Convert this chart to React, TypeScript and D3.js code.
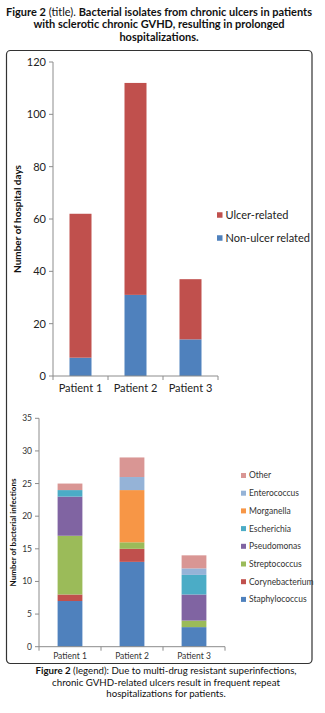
import React from "react";
import * as d3 from "d3";

const patients = ["Patient 1", "Patient 2", "Patient 3"];

// Top chart: hospital days
const daySeries = ["Non-ulcer related", "Ulcer-related"];
const nonUlcerDays = [7, 31, 14];
const ulcerDays = [55, 81, 23];
const dayTicks = [0, 20, 40, 60, 80, 100, 120];
const dayColors = ["#4F81BD", "#C0504D"];

// Bottom chart: bacterial infections
const bacteria = [
  "Staphylococcus",
  "Corynebacterium",
  "Streptococcus",
  "Pseudomonas",
  "Escherichia",
  "Morganella",
  "Enterococcus",
  "Other",
];
const staphylococcus = [7, 13, 3];
const corynebacterium = [1, 2, 0];
const streptococcus = [9, 1, 1];
const pseudomonas = [6, 0, 4];
const escherichia = [1, 0, 3];
const morganella = [0, 8, 0];
const enterococcus = [0, 2, 1];
const other = [1, 3, 2];
const infectionTicks = [0, 5, 10, 15, 20, 25, 30, 35];
const bacteriaColors = [
  "#4F81BD",
  "#C0504D",
  "#9BBB59",
  "#8064A2",
  "#4BACC6",
  "#F79646",
  "#95B3D7",
  "#D99694",
];

const FONT = "Lato, 'Open Sans', 'DejaVu Sans', sans-serif";

function StackedChart(props: {
  x0: number;
  x1: number;
  y0: number;
  y1: number;
  max: number;
  ticks: number[];
  keys: string[];
  values: number[][];
  colors: string[];
  tickFont: number;
  tickColor: string;
  yLabel: string;
  yLabelX: number;
  yLabelFont: number;
  legendX: number;
  legendY: number;
  legendStep: number;
  legendFont: number;
  legendSq: number;
}) {
  const p = props;
  const x = d3.scaleBand<string>().domain(patients).range([p.x0, p.x1]).padding(0);
  const y = d3.scaleLinear().domain([0, p.max]).range([p.y0, p.y1]);
  const rows = patients.map((name, i) => {
    const r: any = { name };
    p.keys.forEach((k, j) => (r[k] = p.values[j][i]));
    return r;
  });
  const stack = d3.stack<any>().keys(p.keys)(rows);
  const bw = x.bandwidth() * 0.4;
  const axisColor = "#8c8c8c";
  const legendOrder = p.keys.map((k, i) => i).reverse();
  const yMid = (p.y0 + p.y1) / 2;
  return (
    <g>
      {stack.map((layer, j) => (
        <g key={p.keys[j]} fill={p.colors[j]}>
          {layer.map((d, i) => {
            const h = y(d[0]) - y(d[1]);
            if (h <= 0) return null;
            return (
              <rect
                key={i}
                x={(x(patients[i]) as number) + x.bandwidth() / 2 - bw / 2}
                y={y(d[1])}
                width={bw}
                height={h}
              />
            );
          })}
        </g>
      ))}
      <line x1={p.x0} x2={p.x0} y1={p.y1} y2={p.y0} stroke={axisColor} />
      <line x1={p.x0} x2={p.x1} y1={p.y0} y2={p.y0} stroke={axisColor} />
      {p.ticks.map((t) => (
        <g key={t}>
          <line x1={p.x0 - 4} x2={p.x0} y1={y(t)} y2={y(t)} stroke={axisColor} />
          <text
            x={p.x0 - 7}
            y={y(t)}
            dy="0.35em"
            textAnchor="end"
            fontSize={p.tickFont}
            fill={p.tickColor}
          >
            {t}
          </text>
        </g>
      ))}
      {[...patients.map((d) => x(d) as number), p.x1].map((v, i) => (
        <line key={i} x1={v} x2={v} y1={p.y0} y2={p.y0 + 4} stroke={axisColor} />
      ))}
      {patients.map((d) => (
        <text
          key={d}
          x={(x(d) as number) + x.bandwidth() / 2}
          y={p.y0 + p.tickFont * 1.45}
          textAnchor="middle"
          fontSize={p.tickFont}
          fill={p.tickColor}
        >
          {d}
        </text>
      ))}
      <text
        transform={`translate(${p.yLabelX},${yMid}) rotate(-90)`}
        textAnchor="middle"
        dy="0.35em"
        fontSize={p.yLabelFont}
        fontWeight="bold"
        fill="#111"
      >
        {p.yLabel}
      </text>
      {legendOrder.map((j, k) => (
        <g key={p.keys[j]} transform={`translate(${p.legendX},${p.legendY + k * p.legendStep})`}>
          <rect x={0} y={-p.legendSq / 2} width={p.legendSq} height={p.legendSq} fill={p.colors[j]} />
          <text x={p.legendSq + 3} dy="0.35em" fontSize={p.legendFont} fill={p.tickColor}>
            {p.keys[j]}
          </text>
        </g>
      ))}
    </g>
  );
}

export default function App() {
  return (
    <svg
      width={325}
      height={713}
      style={{ position: "absolute", left: 0, top: 0, background: "#fff" }}
      fontFamily={FONT}
    >
      <rect x={0} y={0} width={325} height={713} fill="#fff" />
      <text textAnchor="middle" fontSize={11} fill="#111">
        <tspan x={159} y={15.5}>
          <tspan fontWeight="bold">Figure 2</tspan> (title).{" "}
          <tspan fontWeight="bold">Bacterial isolates from chronic ulcers in patients</tspan>
        </tspan>
        <tspan x={159} y={28} fontWeight="bold">
          with sclerotic chronic GVHD, resulting in prolonged
        </tspan>
        <tspan x={159} y={40.5} fontWeight="bold">
          hospitalizations.
        </tspan>
      </text>
      <rect x={6.5} y={50.5} width={305.5} height={613} rx={4} fill="none" stroke="#333" strokeWidth={1.2} />
      <StackedChart
        x0={53}
        x1={218}
        y0={376}
        y1={62}
        max={120}
        ticks={dayTicks}
        keys={daySeries}
        values={[nonUlcerDays, ulcerDays]}
        colors={dayColors}
        tickFont={11}
        tickColor="#222"
        yLabel="Number of hospital days"
        yLabelX={17}
        yLabelFont={10}
        legendX={217}
        legendY={215}
        legendStep={23}
        legendFont={11}
        legendSq={5.5}
      />
      <StackedChart
        x0={39}
        x1={225}
        y0={646.7}
        y1={418.3}
        max={35}
        ticks={infectionTicks}
        keys={bacteria}
        values={[
          staphylococcus,
          corynebacterium,
          streptococcus,
          pseudomonas,
          escherichia,
          morganella,
          enterococcus,
          other,
        ]}
        colors={bacteriaColors}
        tickFont={8.5}
        tickColor="#333"
        yLabel="Number of bacterial infections"
        yLabelX={13}
        yLabelFont={8}
        legendX={241}
        legendY={475.5}
        legendStep={17.7}
        legendFont={8.5}
        legendSq={5}
      />
      <text textAnchor="middle" fontSize={9.7} fill="#111">
        <tspan x={166} y={674}>
          <tspan fontWeight="bold">Figure 2</tspan> (legend): Due to multi-drug resistant superinfections,
        </tspan>
        <tspan x={166} y={685.5}>chronic GVHD-related ulcers result in frequent repeat</tspan>
        <tspan x={166} y={697}>hospitalizations for patients.</tspan>
      </text>
    </svg>
  );
}
